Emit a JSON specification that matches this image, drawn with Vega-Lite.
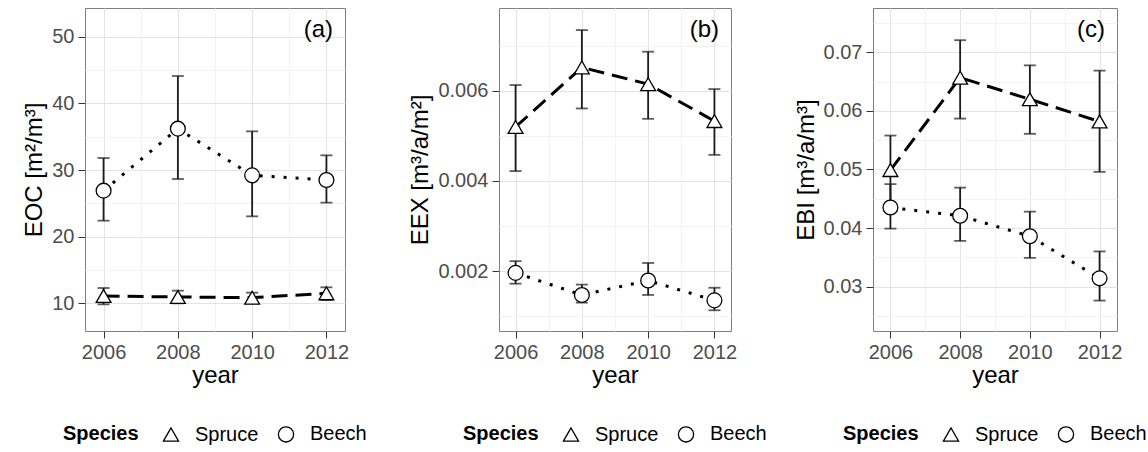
{
  "$schema": "https://vega.github.io/schema/vega-lite/v6.json",
  "padding": {"left": 22, "top": 7, "right": 0, "bottom": 0},
  "background": "white",
  "bounds": "flush",
  "spacing": 154,
  "datasets": {
    "d": [
      {"panel": "a", "species": "Spruce", "year": 2006, "mean": 11.1, "lo": 9.85, "hi": 12.3},
      {"panel": "a", "species": "Spruce", "year": 2008, "mean": 10.95, "lo": 10.0, "hi": 11.9},
      {"panel": "a", "species": "Spruce", "year": 2010, "mean": 10.85, "lo": 10.0, "hi": 11.6},
      {"panel": "a", "species": "Spruce", "year": 2012, "mean": 11.5, "lo": 10.5, "hi": 12.4},
      {"panel": "a", "species": "Beech", "year": 2006, "mean": 26.9, "lo": 22.4, "hi": 31.8},
      {"panel": "a", "species": "Beech", "year": 2008, "mean": 36.2, "lo": 28.65, "hi": 44.1},
      {"panel": "a", "species": "Beech", "year": 2010, "mean": 29.2, "lo": 23.05, "hi": 35.8},
      {"panel": "a", "species": "Beech", "year": 2012, "mean": 28.5, "lo": 25.1, "hi": 32.2},
      {"panel": "b", "species": "Spruce", "year": 2006, "mean": 0.0052, "lo": 0.00422, "hi": 0.00613},
      {"panel": "b", "species": "Spruce", "year": 2008, "mean": 0.00652, "lo": 0.00561, "hi": 0.00735},
      {"panel": "b", "species": "Spruce", "year": 2010, "mean": 0.00615, "lo": 0.00538, "hi": 0.00687},
      {"panel": "b", "species": "Spruce", "year": 2012, "mean": 0.00533, "lo": 0.00458, "hi": 0.00604},
      {"panel": "b", "species": "Beech", "year": 2006, "mean": 0.00196, "lo": 0.00172, "hi": 0.00222},
      {"panel": "b", "species": "Beech", "year": 2008, "mean": 0.00147, "lo": 0.0013, "hi": 0.0017},
      {"panel": "b", "species": "Beech", "year": 2010, "mean": 0.00179, "lo": 0.00147, "hi": 0.00218},
      {"panel": "b", "species": "Beech", "year": 2012, "mean": 0.00135, "lo": 0.00113, "hi": 0.00163},
      {"panel": "c", "species": "Spruce", "year": 2006, "mean": 0.0499, "lo": 0.044, "hi": 0.0558},
      {"panel": "c", "species": "Spruce", "year": 2008, "mean": 0.0657, "lo": 0.0587, "hi": 0.0721},
      {"panel": "c", "species": "Spruce", "year": 2010, "mean": 0.062, "lo": 0.0561, "hi": 0.0678},
      {"panel": "c", "species": "Spruce", "year": 2012, "mean": 0.0582, "lo": 0.0496, "hi": 0.0669},
      {"panel": "c", "species": "Beech", "year": 2006, "mean": 0.0435, "lo": 0.0399, "hi": 0.0475},
      {"panel": "c", "species": "Beech", "year": 2008, "mean": 0.0421, "lo": 0.0378, "hi": 0.0469},
      {"panel": "c", "species": "Beech", "year": 2010, "mean": 0.0386, "lo": 0.0349, "hi": 0.0428},
      {"panel": "c", "species": "Beech", "year": 2012, "mean": 0.0314, "lo": 0.0276, "hi": 0.036}
    ]
  },
  "hconcat": [
    {
      "width": 260, "height": 323,
      "title": {"text": "(a)"},
      "data": {"name": "d"},
      "transform": [{"filter": "datum.panel == 'a'"}],
      "encoding": {
        "x": {"field": "year", "type": "quantitative", "title": "year",
          "scale": {"domain": [2005.5, 2012.5], "nice": false, "zero": false},
          "axis": {"values": [2006, 2007, 2008, 2009, 2010, 2011, 2012], "format": "d",
            "labelExpr": "datum.value % 2 == 0 ? datum.label : ''",
            "gridColor": {"condition": {"test": "datum.value % 2 == 1", "value": "#f3f3f3"}, "value": "#e3e3e3"},
            "tickOpacity": {"condition": {"test": "datum.value % 2 == 1", "value": 0}, "value": 1}}},
        "xOffset": {"field": "species", "type": "nominal", "scale": {"domain": ["Spruce", "Beech"], "range": [-3, 3]}},
        "y": {"field": "mean", "type": "quantitative", "title": "EOC [m²/m³]",
          "scale": {"domain": [5.85, 54.3], "nice": false, "zero": false},
          "axis": {"values": [10, 15, 20, 25, 30, 35, 40, 45, 50], "format": "d",
            "labelExpr": "datum.value % 10 == 0 ? datum.label : ''",
            "gridColor": {"condition": {"test": "datum.value % 10 != 0", "value": "#f3f3f3"}, "value": "#e3e3e3"},
            "tickOpacity": {"condition": {"test": "datum.value % 10 != 0", "value": 0}, "value": 1}}}
      },
      "layer": [
        {"mark": {"type": "line", "color": "black", "strokeWidth": 3},
          "encoding": {"strokeDash": {"field": "species", "type": "nominal", "scale": {"domain": ["Beech", "Spruce"], "range": [[3, 9], [16, 8]]}, "legend": null}}},
        {"mark": {"type": "rule", "color": "#1a1a1a", "strokeWidth": 1.8},
          "encoding": {"y": {"field": "lo", "type": "quantitative"}, "y2": {"field": "hi"}}},
        {"mark": {"type": "tick", "orient": "horizontal", "color": "#1a1a1a", "size": 12, "thickness": 1.8},
          "encoding": {"y": {"field": "lo", "type": "quantitative"}}},
        {"mark": {"type": "tick", "orient": "horizontal", "color": "#1a1a1a", "size": 12, "thickness": 1.8},
          "encoding": {"y": {"field": "hi", "type": "quantitative"}}},
        {"mark": {"type": "point", "fill": "white", "stroke": "black", "strokeWidth": 1.3, "opacity": 1, "size": 220},
          "encoding": {"shape": {"field": "species", "type": "nominal", "title": "Species",
            "scale": {"domain": ["Spruce", "Beech"], "range": ["triangle-up", "circle"]},
            "legend": {"encode": {"symbols": {"fill": {"value": "white"}, "stroke": {"value": "black"}, "strokeWidth": {"value": 1.3}}}}}}}
      ]
    },
    {
      "hconcat": [
        {
          "width": 232, "height": 323,
          "title": {"text": "(b)"},
          "data": {"name": "d"},
          "transform": [{"filter": "datum.panel == 'b'"}],
          "encoding": {
            "x": {"field": "year", "type": "quantitative", "title": "year",
              "scale": {"domain": [2005.5, 2012.5], "nice": false, "zero": false},
              "axis": {"values": [2006, 2007, 2008, 2009, 2010, 2011, 2012], "format": "d",
                "labelExpr": "datum.value % 2 == 0 ? datum.label : ''",
                "gridColor": {"condition": {"test": "datum.value % 2 == 1", "value": "#f3f3f3"}, "value": "#e3e3e3"},
                "tickOpacity": {"condition": {"test": "datum.value % 2 == 1", "value": 0}, "value": 1}}},
            "xOffset": {"field": "species", "type": "nominal", "scale": {"domain": ["Spruce", "Beech"], "range": [-3, 3]}},
            "y": {"field": "mean", "type": "quantitative", "title": "EEX [m³/a/m²]",
              "scale": {"domain": [0.00067, 0.00784], "nice": false, "zero": false},
              "axis": {"values": [0.001, 0.002, 0.003, 0.004, 0.005, 0.006, 0.007], "format": ".3f",
                "labelExpr": "indexof(['0.002','0.004','0.006'], datum.label) >= 0 ? datum.label : ''",
                "gridColor": {"condition": {"test": "indexof(['0.002','0.004','0.006'], format(datum.value, '.3f')) < 0", "value": "#f3f3f3"}, "value": "#e3e3e3"},
                "tickOpacity": {"condition": {"test": "indexof(['0.002','0.004','0.006'], format(datum.value, '.3f')) < 0", "value": 0}, "value": 1}}}
          },
          "layer": [
            {"mark": {"type": "line", "color": "black", "strokeWidth": 3},
              "encoding": {"strokeDash": {"field": "species", "type": "nominal", "scale": {"domain": ["Beech", "Spruce"], "range": [[3, 9], [16, 8]]}, "legend": null}}},
            {"mark": {"type": "rule", "color": "#1a1a1a", "strokeWidth": 1.8},
              "encoding": {"y": {"field": "lo", "type": "quantitative"}, "y2": {"field": "hi"}}},
            {"mark": {"type": "tick", "orient": "horizontal", "color": "#1a1a1a", "size": 12, "thickness": 1.8},
              "encoding": {"y": {"field": "lo", "type": "quantitative"}}},
            {"mark": {"type": "tick", "orient": "horizontal", "color": "#1a1a1a", "size": 12, "thickness": 1.8},
              "encoding": {"y": {"field": "hi", "type": "quantitative"}}},
            {"mark": {"type": "point", "fill": "white", "stroke": "black", "strokeWidth": 1.3, "opacity": 1, "size": 220},
              "encoding": {"shape": {"field": "species", "type": "nominal", "title": "Species",
                "scale": {"domain": ["Spruce", "Beech"], "range": ["triangle-up", "circle"]},
                "legend": {"encode": {"symbols": {"fill": {"value": "white"}, "stroke": {"value": "black"}, "strokeWidth": {"value": 1.3}}}}}}}
          ]
        },
        {
          "width": 244, "height": 323,
          "title": {"text": "(c)"},
          "data": {"name": "d"},
          "transform": [{"filter": "datum.panel == 'c'"}],
          "encoding": {
            "x": {"field": "year", "type": "quantitative", "title": "year",
              "scale": {"domain": [2005.5, 2012.5], "nice": false, "zero": false},
              "axis": {"values": [2006, 2007, 2008, 2009, 2010, 2011, 2012], "format": "d",
                "labelExpr": "datum.value % 2 == 0 ? datum.label : ''",
                "gridColor": {"condition": {"test": "datum.value % 2 == 1", "value": "#f3f3f3"}, "value": "#e3e3e3"},
                "tickOpacity": {"condition": {"test": "datum.value % 2 == 1", "value": 0}, "value": 1}}},
            "xOffset": {"field": "species", "type": "nominal", "scale": {"domain": ["Spruce", "Beech"], "range": [-3, 3]}},
            "y": {"field": "mean", "type": "quantitative", "title": "EBI [m³/a/m³]",
              "scale": {"domain": [0.0224, 0.0776], "nice": false, "zero": false},
              "axis": {"values": [0.025, 0.03, 0.035, 0.04, 0.045, 0.05, 0.055, 0.06, 0.065, 0.07, 0.075], "format": ".3f",
                "labelExpr": "indexof(['0.030','0.040','0.050','0.060','0.070'], datum.label) >= 0 ? slice(datum.label, 0, 4) : ''",
                "gridColor": {"condition": {"test": "indexof(['0.030','0.040','0.050','0.060','0.070'], format(datum.value, '.3f')) < 0", "value": "#f3f3f3"}, "value": "#e3e3e3"},
                "tickOpacity": {"condition": {"test": "indexof(['0.030','0.040','0.050','0.060','0.070'], format(datum.value, '.3f')) < 0", "value": 0}, "value": 1}}}
          },
          "layer": [
            {"mark": {"type": "line", "color": "black", "strokeWidth": 3},
              "encoding": {"strokeDash": {"field": "species", "type": "nominal", "scale": {"domain": ["Beech", "Spruce"], "range": [[3, 9], [16, 8]]}, "legend": null}}},
            {"mark": {"type": "rule", "color": "#1a1a1a", "strokeWidth": 1.8},
              "encoding": {"y": {"field": "lo", "type": "quantitative"}, "y2": {"field": "hi"}}},
            {"mark": {"type": "tick", "orient": "horizontal", "color": "#1a1a1a", "size": 12, "thickness": 1.8},
              "encoding": {"y": {"field": "lo", "type": "quantitative"}}},
            {"mark": {"type": "tick", "orient": "horizontal", "color": "#1a1a1a", "size": 12, "thickness": 1.8},
              "encoding": {"y": {"field": "hi", "type": "quantitative"}}},
            {"mark": {"type": "point", "fill": "white", "stroke": "black", "strokeWidth": 1.3, "opacity": 1, "size": 220},
              "encoding": {"shape": {"field": "species", "type": "nominal", "title": "Species",
                "scale": {"domain": ["Spruce", "Beech"], "range": ["triangle-up", "circle"]},
                "legend": {"encode": {"symbols": {"fill": {"value": "white"}, "stroke": {"value": "black"}, "strokeWidth": {"value": 1.3}}}}}}}
          ]
        }
      ],
      "bounds": "flush",
      "spacing": 142,
      "resolve": {"scale": {"y": "independent", "x": "independent", "shape": "independent", "strokeDash": "independent", "xOffset": "independent"}}
    }
  ],
  "resolve": {"scale": {"y": "independent", "x": "independent", "shape": "independent", "strokeDash": "independent", "xOffset": "independent"}},
  "config": {
    "view": {"stroke": "#7f7f7f", "strokeWidth": 1},
    "font": "Liberation Sans",
    "title": {"anchor": "end", "orient": "top", "frame": "group", "offset": -34, "dx": -12, "fontSize": 24, "fontWeight": "normal", "color": "black", "font": "Liberation Sans", "baseline": "alphabetic"},
    "axis": {
      "domain": false, "grid": true, "gridWidth": 1,
      "tickColor": "#333333", "tickSize": 7, "tickWidth": 1,
      "labelFont": "Liberation Sans", "labelFontSize": 20, "labelColor": "#4d4d4d", "labelPadding": 4,
      "titleFont": "Liberation Sans", "titleFontSize": 24, "titleFontWeight": "normal", "titleColor": "black"
    },
    "axisX": {"titlePadding": 1, "labelFlush": false},
    "axisY": {"titlePadding": 5},
    "legend": {
      "orient": "bottom", "direction": "horizontal", "titleOrient": "left", "offset": 37,
      "layout": {"bottom": {"anchor": "middle"}},
      "titleFont": "Liberation Sans", "titleFontSize": 20, "titleFontWeight": "bold", "titleColor": "black", "titleBaseline": "middle",
      "labelFont": "Liberation Sans", "labelFontSize": 20, "labelColor": "black", "labelOffset": 14,
      "symbolSize": 230, "symbolStrokeWidth": 1.3,
      "columnPadding": 16, "titlePadding": 22
    }
  }
}
